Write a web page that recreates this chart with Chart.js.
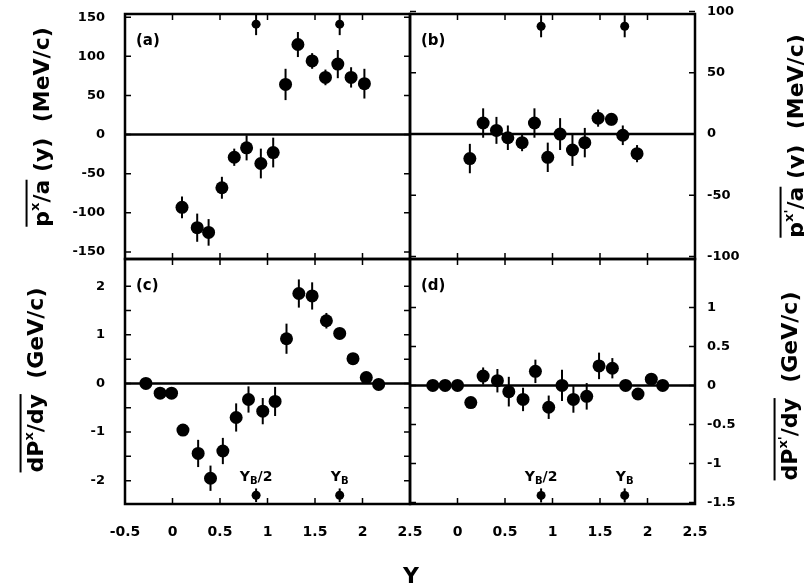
<!DOCTYPE html>
<html lang="en">
<head>
    <meta charset="UTF-8">
    <title>Transverse momentum flow vs rapidity</title>
    <script src="https://cdn.jsdelivr.net/npm/chart.js"></script>
    <style>
        body { margin: 0; background: #fff; }
        #wrap { position: relative; width: 804px; height: 588px; }
    </style>
</head>
<body>
<div id="wrap"><canvas id="flowChart" width="804" height="588"></canvas></div>
<script>
    // (a) <p^x/a>(y)  MeV/c
    const aX   = [0.10, 0.26, 0.38, 0.52, 0.65, 0.78, 0.93, 1.06, 1.19, 1.32, 1.47, 1.61, 1.74, 1.88, 2.02];
    const aY   = [-93, -119, -125, -68, -29, -17, -37, -23, 64, 115, 94, 73, 90, 73, 65];
    const aErr = [14, 18, 17, 14, 11, 16, 19, 19, 20, 16, 10, 10, 18, 13, 19];

    // (b) <p^x'/a>(y)  MeV/c
    const bX   = [0.13, 0.27, 0.41, 0.53, 0.68, 0.81, 0.95, 1.08, 1.21, 1.34, 1.48, 1.62, 1.74, 1.89];
    const bY   = [-20, 9, 3, -3, -7, 9, -19, 0, -13, -7, 13, 12, -1, -16];
    const bErr = [12, 12, 11, 10, 7, 12, 12, 13, 13, 12, 7, 5, 8, 7];

    // (c) dP^x/dy  GeV/c
    const cX   = [-0.28, -0.13, -0.01, 0.11, 0.27, 0.40, 0.53, 0.67, 0.80, 0.95, 1.08, 1.20, 1.33, 1.47, 1.62, 1.76, 1.90, 2.04, 2.17];
    const cY   = [0, -0.2, -0.2, -0.96, -1.44, -1.95, -1.39, -0.70, -0.33, -0.57, -0.37, 0.92, 1.85, 1.80, 1.29, 1.03, 0.51, 0.12, -0.02];
    const cErr = [0, 0, 0, 0.12, 0.28, 0.26, 0.27, 0.29, 0.27, 0.27, 0.30, 0.31, 0.29, 0.28, 0.16, 0.10, 0, 0, 0];

    // (d) dP^x'/dy  GeV/c
    const dX   = [-0.26, -0.13, 0.00, 0.14, 0.27, 0.42, 0.54, 0.69, 0.82, 0.96, 1.10, 1.22, 1.36, 1.49, 1.63, 1.77, 1.90, 2.04, 2.16];
    const dY   = [0, 0, 0, -0.22, 0.12, 0.06, -0.08, -0.18, 0.18, -0.28, 0, -0.18, -0.14, 0.25, 0.22, 0, -0.11, 0.08, 0];
    const dErr = [0, 0, 0, 0, 0.11, 0.15, 0.19, 0.15, 0.15, 0.15, 0.2, 0.17, 0.17, 0.17, 0.13, 0, 0, 0, 0];

    // beam rapidity markers (y_B/2, y_B)
    const markerX = [0.88, 1.76];
    const markerTopA = 141, markerTopB = 88, markerBotC = -2.3, markerBotD = -1.41;
    const markerLabels = ['/2', ''];

    // ticks
    const xTicksLeft  = [-0.5, 0, 0.5, 1, 1.5, 2, 2.5];
    const xTicksRight = [0, 0.5, 1, 1.5, 2, 2.5];
    const aTicks = [-150, -100, -50, 0, 50, 100, 150];
    const bTicks = [-100, -50, 0, 50, 100];
    const cTicks = [-2, -1, 0, 1, 2];
    const cMinor = [-2, -1.5, -1, -0.5, 0, 0.5, 1, 1.5, 2];
    const dTicks = [-1.5, -1, -0.5, 0, 0.5, 1];

    const FONT = '"DejaVu Sans", sans-serif';
    const pts = (xs, ys) => xs.map((x, i) => ({x: x, y: ys[i]}));
    const zero = [{x: -0.5, y: 0}, {x: 2.5, y: 0}];

    function points(xs, ys, errs, xId, yId) {
        return {
            data: pts(xs, ys), errs: errs, xAxisID: xId, yAxisID: yId,
            pointRadius: 6.5, pointBackgroundColor: '#000', pointBorderWidth: 0, clip: false
        };
    }
    function zeroLine(xId, yId) {
        return {
            data: zero, xAxisID: xId, yAxisID: yId, showLine: true,
            borderColor: '#000', borderWidth: 2.5, pointRadius: 0
        };
    }
    function beamMarks(yv, err, xId, yId) {
        return {
            data: markerX.map(x => ({x: x, y: yv})), errs: markerX.map(() => err),
            xAxisID: xId, yAxisID: yId, pointRadius: 4.5,
            pointBackgroundColor: '#000', pointBorderWidth: 0, clip: false
        };
    }

    function noPad(s) {
        s.paddingTop = 0; s.paddingBottom = 0; s.paddingLeft = 0; s.paddingRight = 0;
    }

    function xScale(ticks) {
        return {
            type: 'linear', position: 'bottom', stack: 'X', min: -0.5, max: 2.5,
            afterBuildTicks: s => { s.ticks = ticks.map(v => ({value: v})); },
            afterFit: s => { s.height = 84; noPad(s); },
            grid: {display: false, drawTicks: false}, border: {display: false},
            ticks: {color: '#000', padding: 20, autoSkip: false, maxRotation: 0,
                    font: {family: FONT, size: 14, weight: 'bold'}, callback: v => String(v)}
        };
    }
    function yScale(pos, min, max, ticks) {
        return {
            type: 'linear', position: pos, stack: pos, min: min, max: max,
            afterBuildTicks: s => { s.ticks = ticks.map(v => ({value: v})); },
            afterFit: s => { s.width = pos === 'left' ? 125 : 109; noPad(s); },
            grid: {display: false, drawTicks: false}, border: {display: false},
            ticks: {color: '#000', padding: pos === 'left' ? 20 : 12, autoSkip: false,
                    font: {family: FONT, size: 13, weight: 'bold'}, callback: v => String(v)}
        };
    }

    // overlined, rotated axis titles
    function drawTitle(ctx, bx, cy, segs, size) {
        ctx.save();
        ctx.translate(bx, cy);
        ctx.rotate(-Math.PI / 2);
        ctx.textAlign = 'left';
        ctx.textBaseline = 'alphabetic';
        const big = 'bold ' + size + 'px ' + FONT;
        const sup = 'bold ' + Math.round(size * 0.6) + 'px ' + FONT;
        let w = 0;
        segs.forEach(s => { ctx.font = s.sup ? sup : big; s.w = ctx.measureText(s.t).width; w += s.w; });
        let x = -w / 2;
        let o1 = null, o2 = null;
        segs.forEach(s => {
            ctx.font = s.sup ? sup : big;
            ctx.fillText(s.t, x, s.sup ? -size * 0.45 : 0);
            if (s.over) { if (o1 === null) o1 = x; o2 = x + s.w; }
            x += s.w;
        });
        if (o1 !== null) {
            ctx.lineWidth = 2;
            ctx.beginPath();
            ctx.moveTo(o1, -size * 1.02);
            ctx.lineTo(o2, -size * 1.02);
            ctx.stroke();
        }
        ctx.restore();
    }

    function drawYB(ctx, cx, base, suffix) {
        const big = 'bold 14px ' + FONT, small = 'bold 10px ' + FONT;
        ctx.font = big; const wY = ctx.measureText('Y').width; const wS = ctx.measureText(suffix).width;
        ctx.font = small; const wB = ctx.measureText('B').width;
        let x = cx - (wY + wB + wS) / 2;
        ctx.textAlign = 'left';
        ctx.font = big; ctx.fillText('Y', x, base);
        ctx.font = small; ctx.fillText('B', x + wY, base + 3);
        ctx.font = big; ctx.fillText(suffix, x + wY + wB, base);
    }

    const panels = [
        {x: 'xL', y: 'yA', xt: xTicksLeft, yt: aTicks, tag: '(a)'},
        {x: 'xR', y: 'yB', xt: xTicksLeft, yt: bTicks, tag: '(b)'},
        {x: 'xL', y: 'yC', xt: xTicksLeft, yt: cMinor, tag: '(c)'},
        {x: 'xR', y: 'yD', xt: xTicksLeft, yt: dTicks, tag: '(d)'}
    ];

    const panelPlugin = {
        id: 'panels',
        beforeDatasetsDraw(chart) {
            const ctx = chart.ctx;
            ctx.save();
            ctx.strokeStyle = '#000';
            ctx.lineWidth = 2;
            chart.data.datasets.forEach((ds, i) => {
                if (!ds.errs) return;
                const meta = chart.getDatasetMeta(i);
                const ys = chart.scales[ds.yAxisID];
                meta.data.forEach((pt, j) => {
                    const e = ds.errs[j];
                    if (!e) return;
                    const v = ds.data[j].y;
                    ctx.beginPath();
                    ctx.moveTo(pt.x, ys.getPixelForValue(v + e));
                    ctx.lineTo(pt.x, ys.getPixelForValue(v - e));
                    ctx.stroke();
                });
            });
            ctx.restore();
        },
        afterDraw(chart) {
            const ctx = chart.ctx;
            ctx.save();
            ctx.strokeStyle = '#000';
            ctx.fillStyle = '#000';
            panels.forEach(p => {
                const xs = chart.scales[p.x], ys = chart.scales[p.y];
                const L = xs.left, R = xs.right, T = ys.top, B = ys.bottom;
                ctx.lineWidth = 1.5;
                p.xt.forEach(v => {
                    const px = xs.getPixelForValue(v);
                    ctx.beginPath();
                    ctx.moveTo(px, B); ctx.lineTo(px, B - 6);
                    ctx.moveTo(px, T); ctx.lineTo(px, T + 6);
                    ctx.stroke();
                });
                p.yt.forEach(v => {
                    const py = ys.getPixelForValue(v);
                    ctx.beginPath();
                    ctx.moveTo(L, py); ctx.lineTo(L + 6, py);
                    ctx.moveTo(R, py); ctx.lineTo(R - 6, py);
                    ctx.stroke();
                });
                ctx.lineWidth = 2.5;
                ctx.strokeRect(L, T, R - L, B - T);
                ctx.font = 'bold 15px ' + FONT;
                ctx.textAlign = 'left';
                ctx.textBaseline = 'alphabetic';
                ctx.fillText(p.tag, L + 11, T + 31);
            });
            // y_B labels in the lower panels
            ['xL', 'xR'].forEach(id => {
                const xs = chart.scales[id];
                markerX.forEach((v, k) => drawYB(ctx, xs.getPixelForValue(v), 481, markerLabels[k]));
            });
            // x axis title
            ctx.font = 'bold 22px ' + FONT;
            ctx.textAlign = 'center';
            ctx.fillText('Y', 411, 583);
            // y axis titles
            drawTitle(ctx, 49, 127, [{t: 'p', over: true}, {t: 'x', sup: true, over: true}, {t: '/a', over: true}, {t: ' (y)  (MeV/c)'}], 22);
            drawTitle(ctx, 803, 136, [{t: 'p', over: true}, {t: "x'", sup: true, over: true}, {t: '/a', over: true}, {t: ' (y)  (MeV/c)'}], 22);
            drawTitle(ctx, 43, 380, [{t: 'dP', over: true}, {t: 'x', sup: true, over: true}, {t: '/dy', over: true}, {t: '  (GeV/c)'}], 22);
            drawTitle(ctx, 797, 386, [{t: 'dP', over: true}, {t: "x'", sup: true, over: true}, {t: '/dy', over: true}, {t: '  (GeV/c)'}], 22);
            ctx.restore();
        }
    };

    new Chart(document.getElementById('flowChart'), {
        type: 'scatter',
        data: {
            datasets: [
                zeroLine('xL', 'yA'), zeroLine('xR', 'yB'), zeroLine('xL', 'yC'), zeroLine('xR', 'yD'),
                points(aX, aY, aErr, 'xL', 'yA'),
                points(bX, bY, bErr, 'xR', 'yB'),
                points(cX, cY, cErr, 'xL', 'yC'),
                points(dX, dY, dErr, 'xR', 'yD'),
                beamMarks(markerTopA, 14, 'xL', 'yA'),
                beamMarks(markerTopB, 9, 'xR', 'yB'),
                beamMarks(markerBotC, 0.14, 'xL', 'yC'),
                beamMarks(markerBotD, 0.09, 'xR', 'yD')
            ]
        },
        options: {
            responsive: false,
            animation: false,
            layout: {padding: {top: 14, left: 0, right: 0, bottom: 0}},
            plugins: {legend: {display: false}, tooltip: {enabled: false}},
            scales: {
                xL: xScale(xTicksLeft),
                xR: xScale(xTicksRight),
                yC: yScale('left', -2.48, 2.56, cTicks),
                yA: yScale('left', -159, 154, aTicks),
                yB: yScale('right', -102, 98, bTicks),
                yD: yScale('right', -1.52, 1.62, dTicks)
            }
        },
        plugins: [panelPlugin]
    });
</script>
</body>
</html>
